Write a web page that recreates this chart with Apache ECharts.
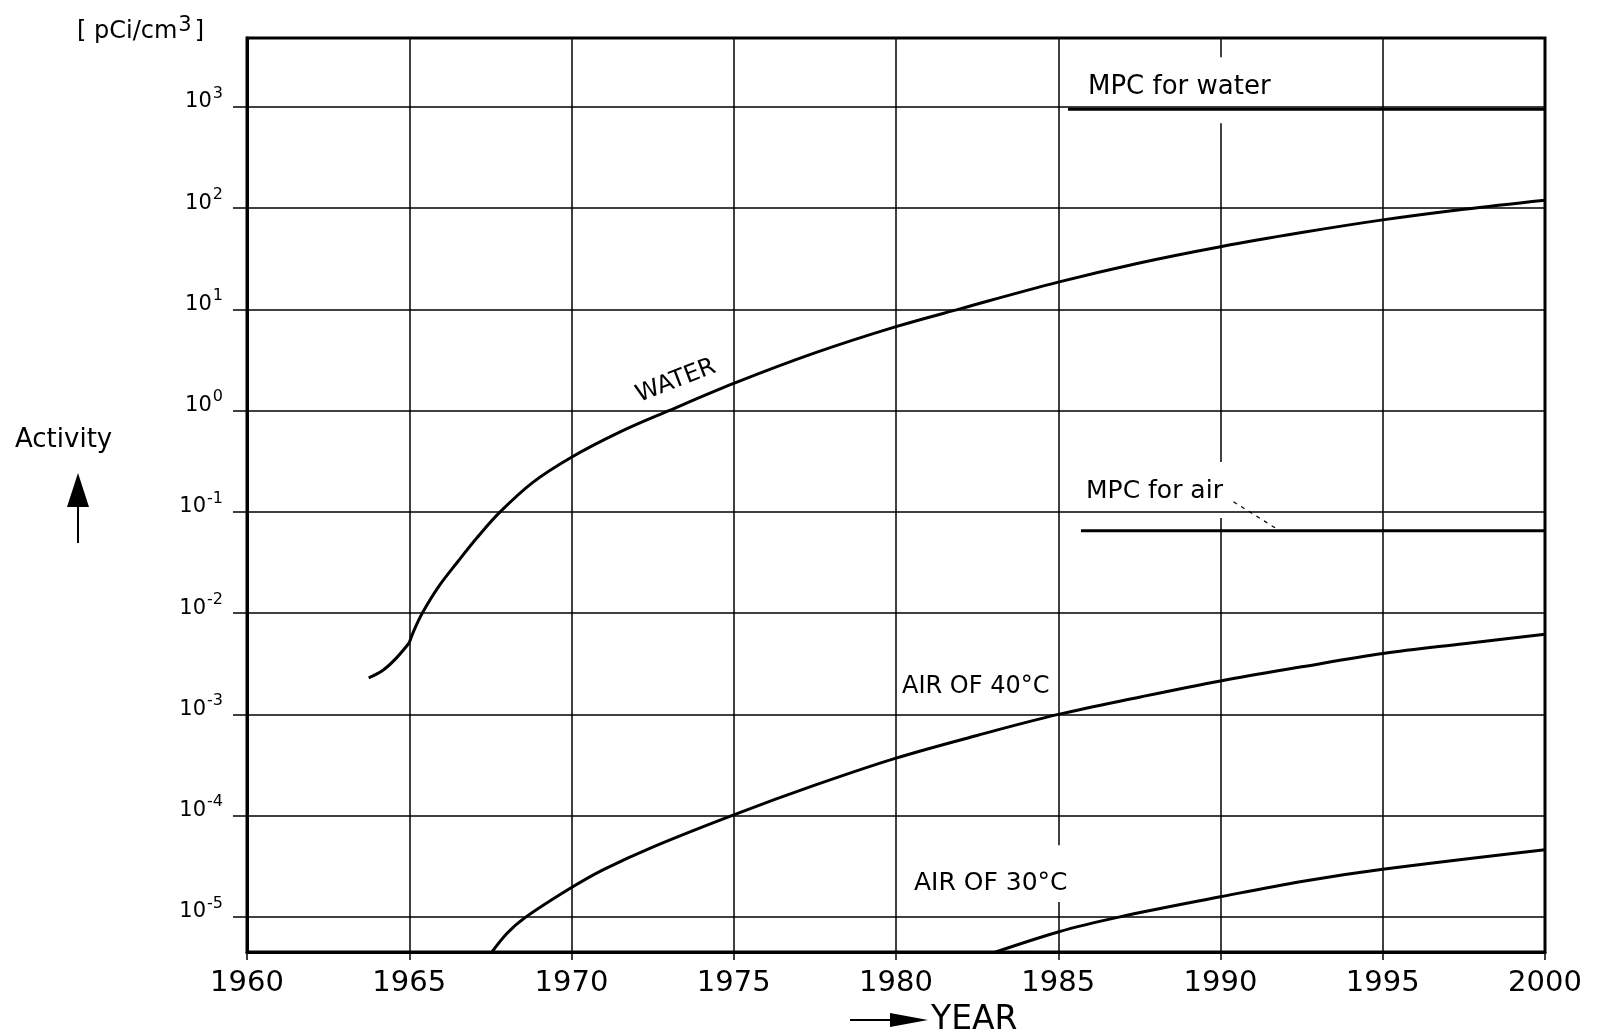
<!DOCTYPE html>
<html><head><meta charset="utf-8">
<script src="https://cdn.jsdelivr.net/npm/echarts@6/dist/echarts.min.js"></script>
<style>html,body{margin:0;padding:0;background:#fff}#c{width:1605px;height:1035px}</style>
</head><body><div id="c"></div>
<script>
// ---- data (activity in pCi/cm3 versus year) ----
const xTickYears = [1960, 1965, 1970, 1975, 1980, 1985, 1990, 1995, 2000];
const yTickExponents = [-5, -4, -3, -2, -1, 0, 1, 2, 3];

const waterEarlyYears  = [1963.75, 1964.2, 1964.6, 1965.0];
const waterEarlyValues = [2.3e-3, 2.75e-3, 3.6e-3, 5.1e-3];

const waterYears  = [1965.0, 1965.15, 1965.4, 1965.9, 1966.5, 1967.1, 1967.8, 1968.8, 1970, 1971.5, 1973, 1975, 1977.5, 1980, 1982, 1985, 1987.5, 1990, 1992.5, 1995, 1997.5, 2000];
const waterValues = [5.1e-3, 6.8e-3, 1.0e-2, 1.82e-2, 3.24e-2, 5.62e-2, 0.10, 0.195, 0.347, 0.617, 1.0, 1.86, 3.72, 6.76, 10.2, 18.6, 28.8, 41.7, 57.5, 76.7, 97.7, 120];

const air40Years  = [1967.3, 1968, 1968.6, 1970, 1971, 1972.5, 1975, 1977.5, 1980, 1982.5, 1985, 1987.5, 1990, 1992.5, 1995, 1997.5, 2000];
const air40Values = [3.5e-6, 6.8e-6, 1.0e-5, 1.95e-5, 2.95e-5, 4.9e-5, 1.02e-4, 2.0e-4, 3.7e-4, 6.2e-4, 1.0e-3, 1.48e-3, 2.14e-3, 2.95e-3, 4.0e-3, 5.0e-3, 6.2e-3];

const air30Years  = [1982.5, 1985, 1986.9, 1990, 1992.5, 1995, 2000];
const air30Values = [3.9e-6, 7.1e-6, 1.0e-5, 1.58e-5, 2.24e-5, 2.95e-5, 4.6e-5];

const mpcWaterYears  = [1985.3, 2000];
const mpcWaterValues = [950, 950];
const mpcAirYears    = [1985.7, 2000];
const mpcAirValues   = [0.065, 0.065];

const leaderYears  = [1990.4, 1991.8];
const leaderValues = [0.126, 0.066];

const yMin = 4.5e-6, yMax = 4.8e3;
const xMin = 1960, xMax = 2000;

// gaps in the vertical grid lines (value ranges left open around lettering)
const vGridGaps = {
  1985: [[1.4e-5, 5.1e-5]],
  1990: [[0.087, 0.312], [692, 3090]]
};

const pair = (xs, ys) => xs.map((x, i) => [x, ys[i]]);
const FONT = 'DejaVu Sans';

// vertical grid segments
const vSegments = [];
xTickYears.filter(y => y !== xMin && y !== xMax).forEach(yr => {
  let cur = yMin;
  (vGridGaps[yr] || []).forEach(g => {
    vSegments.push([{coord: [yr, cur]}, {coord: [yr, g[0]]}]);
    cur = g[1];
  });
  vSegments.push([{coord: [yr, cur]}, {coord: [yr, yMax]}]);
});

const lineBase = {type: 'line', showSymbol: false, symbol: 'none', silent: true, animation: false,
  lineStyle: {color: '#000', width: 3}, itemStyle: {color: '#000'}};

const chart = echarts.init(document.getElementById('c'), null, {renderer: 'canvas'});
chart.setOption({
  backgroundColor: '#fff',
  animation: false,
  grid: {left: 247, right: 60, top: 38, bottom: 83, show: true, borderColor: '#000', borderWidth: 3, backgroundColor: 'transparent'},
  xAxis: {
    type: 'value', min: xMin, max: xMax, interval: 5,
    axisLine: {show: true, lineStyle: {color: '#000', width: 3}},
    axisTick: {show: true, length: 8, lineStyle: {color: '#000', width: 1.5}},
    splitLine: {show: false},
    axisLabel: {color: '#000', fontFamily: FONT, fontSize: 29, margin: 17,
      formatter: v => xTickYears.includes(v) ? String(v) : ''}
  },
  yAxis: {
    type: 'log', logBase: 10, min: yMin, max: yMax, splitNumber: 9,
    axisLine: {show: true, lineStyle: {color: '#000', width: 3}},
    axisTick: {show: true, length: 14, lineStyle: {color: '#000', width: 1.5}},
    splitLine: {show: true, lineStyle: {color: '#000', width: 1.5}},
    axisLabel: {
      showMinLabel: false, showMaxLabel: false, margin: 24, verticalAlign: 'middle',
      color: '#000', fontFamily: FONT,
      formatter: v => {
        const l = Math.log10(v), e = Math.round(l);
        if (Math.abs(l - e) > 0.01 || !yTickExponents.includes(e)) return '';
        return '{a|10}{b|' + String(e) + '}';
      },
      rich: {
        a: {fontSize: 21, fontFamily: FONT, color: '#000', padding: [6, 0, 16, 0]},
        b: {fontSize: 16, fontFamily: FONT, color: '#000', verticalAlign: 'top', padding: [0, 0, 0, 1]}
      }
    }
  },
  series: [
    Object.assign({}, lineBase, {name: 'water-early', data: pair(waterEarlyYears, waterEarlyValues), smooth: 0.4}),
    Object.assign({}, lineBase, {name: 'water', data: pair(waterYears, waterValues), smooth: 0.35}),
    Object.assign({}, lineBase, {name: 'air40', data: pair(air40Years, air40Values), smooth: 0.35}),
    Object.assign({}, lineBase, {name: 'air30', data: pair(air30Years, air30Values), smooth: 0.35}),
    Object.assign({}, lineBase, {name: 'mpc-water', data: pair(mpcWaterYears, mpcWaterValues)}),
    Object.assign({}, lineBase, {name: 'mpc-air', data: pair(mpcAirYears, mpcAirValues)}),
    Object.assign({}, lineBase, {name: 'leader', data: pair(leaderYears, leaderValues),
      lineStyle: {color: '#000', width: 1.2, type: [4, 5]}}),
    Object.assign({}, lineBase, {name: 'vgrid', data: [],
      markLine: {silent: true, symbol: ['none', 'none'], label: {show: false}, animation: false,
        lineStyle: {color: '#000', width: 1.5, type: 'solid'}, emphasis: {disabled: true},
        data: vSegments}})
  ],
  graphic: [
    {type: 'text', x: 77, y: 32, style: {text: '[ pCi/cm{s|3}]', font: '24px ' + FONT, fill: '#000',
      textVerticalAlign: 'middle',
      rich: {s: {fontSize: 21, fontFamily: FONT, verticalAlign: 'top', padding: [0, 3, 12, 1]}}}},
    {type: 'text', x: 15, y: 440, style: {text: 'Activity', font: '26px ' + FONT, fill: '#000', textVerticalAlign: 'middle'}},
    {type: 'polygon', shape: {points: [[78, 473], [67, 507], [89, 507]]}, style: {fill: '#000'}},
    {type: 'line', shape: {x1: 78, y1: 505, x2: 78, y2: 543}, style: {stroke: '#000', lineWidth: 2}},
    {type: 'line', shape: {x1: 850, y1: 1020, x2: 895, y2: 1020}, style: {stroke: '#000', lineWidth: 2}},
    {type: 'polygon', shape: {points: [[928, 1020], [890, 1013], [890, 1027]]}, style: {fill: '#000'}},
    {type: 'text', x: 931, y: 1020, style: {text: 'YEAR', font: '33px ' + FONT, fill: '#000', textVerticalAlign: 'middle'}},
    {type: 'text', x: 676, y: 381, rotation: 0.37, style: {text: 'WATER', font: '24px ' + FONT, fill: '#000', textAlign: 'center', textVerticalAlign: 'middle'}},
    {type: 'text', x: 1088, y: 87, style: {text: 'MPC for water', font: '26px ' + FONT, fill: '#000', textVerticalAlign: 'middle'}},
    {type: 'text', x: 1086, y: 491, style: {text: 'MPC for air', font: '25px ' + FONT, fill: '#000', textVerticalAlign: 'middle'}},
    {type: 'text', x: 902, y: 687, style: {text: 'AIR OF 40°C', font: '24px ' + FONT, fill: '#000', textVerticalAlign: 'middle'}},
    {type: 'text', x: 914, y: 883, style: {text: 'AIR OF 30°C', font: '25px ' + FONT, fill: '#000', textVerticalAlign: 'middle'}}
  ]
});
</script></body></html>
